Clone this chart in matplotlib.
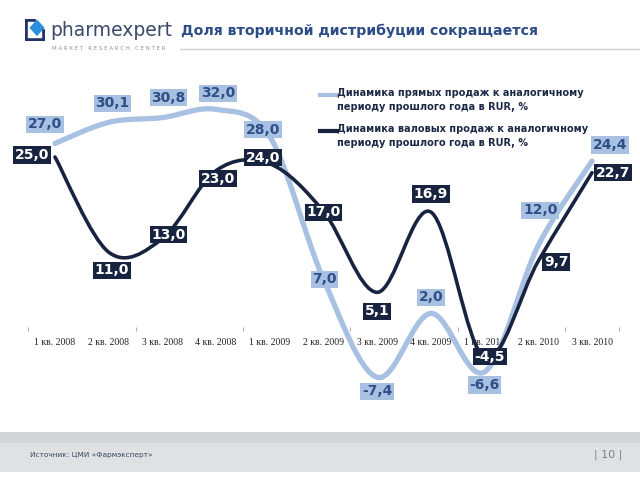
import numpy as np
import matplotlib
matplotlib.use("Agg")
import matplotlib.pyplot as plt
from matplotlib.path import Path
from matplotlib.patches import PathPatch, Rectangle, Polygon
from matplotlib.lines import Line2D

# ---- data ----
quarters = ["1 кв. 2008", "2 кв. 2008", "3 кв. 2008", "4 кв. 2008",
            "1 кв. 2009", "2 кв. 2009", "3 кв. 2009", "4 кв. 2009",
            "1 кв. 2010", "2 кв. 2010", "3 кв. 2010"]
direct = [27.0, 30.1, 30.8, 32.0, 28.0, 7.0, -7.4, 2.0, -6.6, 12.0, 24.4]
gross = [25.0, 11.0, 13.0, 23.0, 24.0, 17.0, 5.1, 16.9, -4.5, 9.7, 22.7]
direct_name = "Динамика прямых продаж к аналогичному\nпериоду прошлого года в RUR, %"
gross_name = "Динамика валовых продаж к аналогичному\nпериоду прошлого года в RUR, %"

# label offsets in pixels (dx, dy) from each point
direct_off = [(-10, 19), (4, 19), (6, 20), (2, 16), (-7, 7), (1, 0),
              (0, -14), (0, 16), (0, -13), (2, 35), (18, 16)]
gross_off = [(-23, 2), (3, -18), (6, 4), (2, -8), (-7, 6), (0, -1),
             (0, -19), (0, 18), (5, 1), (18, -1), (21, 0)]

LIGHT = "#a8c0e2"
LIGHT_TXT = "#2e5086"
DARK = "#18243f"
W, H = 640, 480


def smooth_path(xs, ys):
    # excel-like smoothed line: cubic bezier segments (catmull-rom control points)
    p = np.column_stack([xs, ys]).astype(float)
    ext = np.vstack([p[0], p, p[-1]])
    verts = [tuple(p[0])]
    codes = [Path.MOVETO]
    for i in range(len(p) - 1):
        p0, p1, p2, p3 = ext[i], ext[i + 1], ext[i + 2], ext[i + 3]
        c1 = p1 + (p2 - p0) / 6.0
        c2 = p2 - (p3 - p1) / 6.0
        verts += [tuple(c1), tuple(c2), tuple(p2)]
        codes += [Path.CURVE4] * 3
    return Path(verts, codes)


fig = plt.figure(figsize=(6.4, 4.8), dpi=100)
fig.patch.set_facecolor("white")

# ---- main chart (axes spans the figure; limits set so points land where the slide has them) ----
ax = fig.add_axes([0, 0, 1, 1])
ax.patch.set_visible(False)
x = np.arange(len(quarters))
ax.set_xlim(-55 / 53.7, (W - 55) / 53.7)
ax.set_ylim((327 - H) / 6.8, 327 / 6.8)

ax.add_patch(PathPatch(smooth_path(x, direct), fill=False, ec=LIGHT, lw=3.8,
                       capstyle="round", zorder=2))
ax.add_patch(PathPatch(smooth_path(x, gross), fill=False, ec=DARK, lw=2.6,
                       capstyle="round", zorder=3))

for i, v in enumerate(direct):
    ax.annotate(f"{v:.1f}".replace(".", ","), xy=(i, v), xytext=direct_off[i],
                textcoords="offset pixels", ha="center", va="center",
                fontsize=10, fontweight="bold", color=LIGHT_TXT, zorder=4,
                bbox=dict(boxstyle="square,pad=0.12", fc=LIGHT, ec="none"))
for i, v in enumerate(gross):
    ax.annotate(f"{v:.1f}".replace(".", ","), xy=(i, v), xytext=gross_off[i],
                textcoords="offset pixels", ha="center", va="center",
                fontsize=10, fontweight="bold", color="white", zorder=5,
                bbox=dict(boxstyle="square,pad=0.12", fc=DARK, ec="none"))

for s in ["top", "right", "left"]:
    ax.spines[s].set_visible(False)
ax.spines["bottom"].set_position(("data", 0))
ax.spines["bottom"].set_visible(False)
ax.set_yticks([])
ax.set_xticks(x)
ax.set_xticklabels(quarters, fontsize=7, family="Liberation Serif", color="#222222")
ax.tick_params(axis="x", which="major", length=0, pad=8)
ax.set_xticks([-0.5, 1.5, 3.5, 5.5, 7.5, 9.5, 10.5], minor=True)
ax.tick_params(axis="x", which="minor", length=3, color="#b0b0b0", width=0.8)

# ---- legend (drawn by hand, slide style) ----
def fx(px):
    return px / W


def fy(py):
    return 1 - py / H


fig.add_artist(Line2D([fx(320), fx(337)], [fy(95), fy(95)], color=LIGHT, lw=3))
fig.add_artist(Line2D([fx(320), fx(337)], [fy(131), fy(131)], color=DARK, lw=3))
fig.text(fx(337), fy(88), direct_name, fontsize=7.0, fontweight="bold",
         color="#1c2946", va="top", ha="left", linespacing=1.55)
fig.text(fx(337), fy(124), gross_name, fontsize=7.0, fontweight="bold",
         color="#1c2946", va="top", ha="left", linespacing=1.55)

# ---- header ----
fig.text(fx(181), fy(31), "Доля вторичной дистрибуции сокращается", fontsize=10.2,
         fontweight="bold", color="#2d4d86", va="center", ha="left")
fig.text(fx(50), fy(30), "pharmexpert", fontsize=13.5, color="#3b4a6c",
         va="center", ha="left")
fig.text(fx(52), fy(49), "M A R K E T   R E S E A R C H   C E N T E R", fontsize=4,
         color="#8a8f99", va="center", ha="left")
fig.add_artist(Line2D([fx(180), fx(640)], [fy(49), fy(49)], color="#cdd1d8", lw=1))

logo = fig.add_axes([fx(25), fy(41), 20 / W, 22 / H])
logo.set_xlim(0, 1)
logo.set_ylim(0, 1)
logo.axis("off")
logo.plot([0.45, 0.06, 0.06, 0.94, 0.94], [0.94, 0.94, 0.06, 0.06, 0.45],
          color="#1f3566", lw=2.6, solid_joinstyle="miter")
logo.add_patch(Polygon([[0.6, 0.98], [0.98, 0.6], [0.6, 0.22], [0.22, 0.6]],
                       closed=True, fc="#2b8fe0", ec="none"))

# ---- footer ----
fig.add_artist(Rectangle((0, fy(472)), 1, (472 - 443) / H, transform=fig.transFigure,
                         fc="#dfe1e3", ec="none"))
fig.add_artist(Rectangle((0, fy(443)), 1, (443 - 432) / H, transform=fig.transFigure,
                         fc="#d3d6d9", ec="none"))
fig.text(fx(30), fy(455), "Источник: ЦМИ «Фармэксперт»", fontsize=5.3,
         color="#3c4a5e", va="center", ha="left")
fig.text(fx(622), fy(455), "| 10 |", fontsize=8, color="#7a7f88",
         va="center", ha="right")

fig.savefig("out.png", dpi=100)
